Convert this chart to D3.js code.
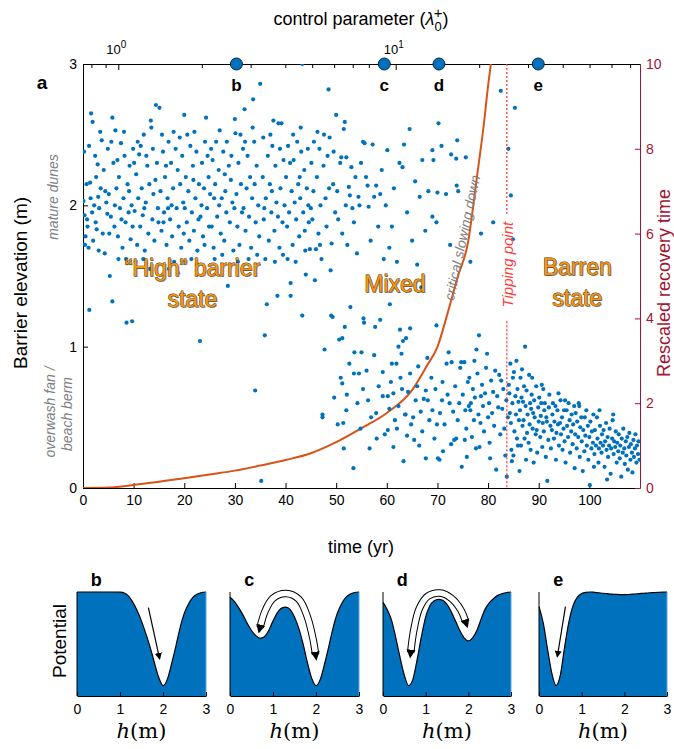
<!DOCTYPE html>
<html>
<head>
<meta charset="utf-8">
<script src="https://cdn.jsdelivr.net/npm/d3@7"></script>
<style>
body { margin: 0; background: #fff; }
svg { font-family: "Liberation Sans", Arial, sans-serif; }
</style>
</head>
<body>
<script>
// barrier elevation samples [time (yr), elevation (m)]
var highPts = [
[0.2,2.38],[0.1,2.03],[0.3,1.93],[0.7,2.15],[1.4,2.16],[1.6,2.65],[1.9,2.59],[1.25,1.26],[0.5,1.78],[0.9,1.85],[1.1,1.7],[0.4,1.72],[1.8,1.95],[2.2,2.0],[2.5,1.88],[2.7,1.83],[2.9,2.29],[3.0,2.06],[3.4,2.52],[3.7,2.46],[3.2,1.98],[3.5,2.12],[3.9,1.8],[4.3,1.66],[4.1,2.25],[4.6,2.02],[4.8,1.94],[2.4,2.35],[1.2,2.42],[0.8,1.9],[2.0,1.75],[3.1,1.68],[4.4,2.1],[4.9,2.4],[2.6,2.2],[1.5,2.05],
[5.3,1.5],[5.8,1.32],[5.8,2.62],[6.4,2.53],[5.1,2.08],[5.5,1.92],[6.0,2.3],[6.2,1.85],[6.6,2.12],[6.9,1.78],[7.1,2.2],[7.3,1.98],[7.5,2.44],[7.8,1.7],[8.0,2.05],[8.2,2.35],[8.4,1.88],[8.6,1.17],[8.8,2.15],[9.0,1.95],[9.2,2.28],[9.4,1.76],[9.7,1.18],[9.6,2.0],[9.9,2.4],[5.6,2.45],[6.8,2.32],[7.6,1.9],[8.5,1.62],[9.1,2.1],[7.0,1.62],[5.2,1.8],[9.8,1.85],[6.3,2.0],[8.1,2.52],
[10.2,1.96],[10.5,2.22],[10.7,1.72],[10.9,2.05],[11.1,2.36],[11.3,1.85],[11.6,2.12],[11.8,1.93],[12.0,2.5],[12.2,1.68],[12.4,2.02],[12.7,2.28],[12.9,1.8],[13.1,2.15],[13.4,2.6],[13.5,2.55],[13.7,1.9],[13.9,2.08],[14.1,1.75],[14.4,2.71],[14.6,2.3],[14.8,1.98],[15.1,2.69],[10.4,1.6],[11.4,2.42],[12.5,2.35],[13.2,1.55],[14.3,2.18],[10.8,2.45],[12.1,1.98],[13.8,2.4],[11.9,1.62],[14.9,1.88],[10.1,2.3],
[15.3,2.1],[15.5,1.82],[15.8,2.38],[16.0,1.95],[16.2,2.2],[16.5,1.72],[16.7,2.05],[16.9,2.45],[17.2,1.9],[17.4,2.3],[17.6,1.78],[17.8,2.12],[18.0,1.6],[18.3,2.4],[18.5,1.98],[18.7,2.25],[18.9,1.85],[19.2,2.15],[19.4,1.7],[19.6,2.35],[19.8,2.02],[20.0,2.64],[15.6,2.5],[16.4,2.28],[17.0,1.55],[17.9,2.52],[18.8,1.52],[19.1,2.48],[15.9,1.88],[16.8,1.98],[19.9,1.8],[17.5,2.0],
[20.3,2.2],[20.5,1.88],[20.8,2.1],[21.0,1.75],[21.2,2.42],[21.5,1.95],[21.7,2.28],[21.9,1.82],[22.2,2.05],[22.4,2.38],[22.6,1.68],[22.9,2.15],[23.1,1.04],[23.2,1.92],[23.5,2.3],[23.7,1.78],[23.9,2.12],[24.1,2.45],[24.3,2.62],[24.5,1.98],[24.8,2.2],[20.6,2.5],[21.4,1.62],[22.0,2.52],[22.8,1.9],[23.4,2.0],[24.0,1.72],[24.6,2.35],[20.1,1.98],[21.8,2.18],[24.9,1.85],[22.5,1.58],
[25.1,2.08],[25.4,1.85],[25.6,2.32],[25.8,1.7],[26.1,2.15],[26.3,2.45],[26.5,1.92],[26.8,2.25],[27.0,2.53],[27.2,1.8],[27.4,2.05],[27.7,2.38],[27.9,1.75],[28.1,2.1],[28.3,1.95],[28.6,1.43],[28.8,2.28],[29.0,1.88],[29.2,2.18],[29.5,2.02],[29.7,1.68],[30.0,2.61],[30.1,2.51],[25.3,2.4],[26.0,1.62],[26.9,2.0],[27.5,1.65],[28.4,2.45],[29.3,2.35],[29.9,1.98],[25.9,2.05],[28.0,2.22],
[30.3,2.08],[30.5,1.85],[30.7,2.3],[30.9,1.72],[31.2,2.15],[31.4,1.95],[31.6,2.4],[31.9,2.68],[32.1,1.82],[32.3,2.12],[32.5,2.35],[32.8,1.92],[33.0,2.2],[33.2,1.7],[33.4,2.05],[33.6,2.75],[33.8,2.45],[34.0,0.69],[34.1,1.88],[34.3,2.28],[34.6,2.0],[34.8,1.78],[35.0,2.86],[35.2,0.05],[30.6,1.6],[31.1,2.5],[32.0,2.45],[32.7,1.62],[33.5,2.55],[34.4,1.65],[31.7,1.98],[33.9,2.15],
[35.5,2.2],[35.7,1.9],[35.9,1.08],[36.1,2.05],[36.3,1.3],[36.5,2.35],[36.7,1.75],[36.9,2.15],[37.2,1.95],[37.4,2.42],[37.6,2.6],[37.8,1.82],[38.0,2.28],[38.2,2.02],[38.4,1.36],[38.6,2.58],[38.8,1.7],[39.0,2.12],[39.2,2.58],[39.4,1.88],[39.6,2.32],[39.8,2.0],[35.6,2.48],[36.0,1.62],[37.0,2.5],[37.9,1.6],[38.9,2.4],[39.5,1.65],[35.8,1.98],[37.3,2.1],[38.5,1.92],
[40.1,2.2],[40.3,1.85],[40.5,2.42],[40.7,1.95],[41.0,1.36],[41.0,1.45],[41.2,2.1],[41.4,1.72],[41.6,2.32],[41.8,2.02],[42.1,1.9],[42.3,2.45],[42.5,2.15],[42.7,1.78],[42.9,2.05],[43.1,2.38],[43.3,1.22],[43.3,3.0],[43.5,1.95],[43.7,2.25],[43.9,1.68],[44.0,1.51],[44.2,2.12],[44.4,2.4],[44.6,1.88],[44.8,1.69],[40.4,1.62],[41.5,2.5],[42.0,1.6],[43.0,2.55],[44.5,2.0],[40.9,2.3],[42.8,2.2],[43.8,1.82],
[45.1,2.3],[45.3,1.9],[45.5,2.1],[45.8,1.47],[46.0,1.69],[46.2,2.2],[46.3,2.52],[46.5,1.8],[46.7,2.4],[46.9,2.0],[47.1,1.62],[47.3,0.52],[47.3,0.5],[47.5,2.28],[47.7,0.98],[47.9,2.05],[48.1,1.85],[48.3,2.35],[48.5,2.82],[48.7,2.48],[48.9,1.54],[49.0,1.22],[49.1,1.73],[49.3,1.21],[49.4,2.15],[49.8,1.95],[45.6,2.45],[46.8,1.72],[47.6,2.5],[48.6,2.12],[49.5,2.38],[45.0,1.98]
];
var mixedHighPts = [
[50.0,2.64],[50.2,2.1],[50.4,1.9],[50.6,1.05],[50.8,2.3],[51.0,2.34],[51.2,1.8],[51.5,2.54],[51.7,2.59],[51.9,2.0],[52.0,2.34],[52.2,1.72],[52.5,2.13],[52.7,2.07],[53.0,2.27],[53.2,1.98],[53.5,1.88],[53.8,2.2],[54.1,1.66],[54.4,2.06],[54.6,2.0],[54.9,2.3],[55.3,2.45],[55.6,2.44],[55.9,2.2],[56.2,2.14],[56.4,1.99],[56.8,1.75],[57.2,2.43],[57.5,2.06],[57.9,2.14],[58.3,1.85],[58.7,2.08],[59.0,2.25],[59.4,1.62],[59.8,2.0],[60.1,2.39],[60.5,1.7],[61.0,1.85],[61.4,2.12],[62.0,1.6],[62.5,2.3],[63.1,2.27],[63.4,2.43],[64.0,1.95],[64.5,2.54],[65.0,1.75],[65.6,2.17],[66.0,1.58],[66.5,2.06],[67.0,2.32],[67.6,1.82],[68.2,2.1],[69.0,2.39],[69.2,2.32],[69.0,1.92],[69.8,1.88],[70.0,2.09],[70.2,2.58],[70.8,2.42],[71.7,2.08],[72.5,1.72],[72.7,2.36],[73.7,2.33],[73.9,2.46],[73.8,2.14],[74.1,2.1],[75.6,2.34],[76.5,1.6],[78.6,1.8],[81.0,1.88],[82.5,2.81],[84.0,2.4],[84.5,2.07],[84.9,1.76],[85.3,2.69],[87.3,1.0],
[51.7,1.14],[51.2,1.06],[55.4,1.2],[55.5,1.17],[57.7,1.14],[58.7,1.19],[53.6,0.96],[55.0,0.96],[57.5,0.94],[62.6,1.12],[64.6,1.13],[62.3,1.0],[63.2,1.04],[63.8,1.06],[62.9,0.95],[69.8,1.15],[77.7,0.98],[78.2,1.08],[60.6,1.3],[66.8,1.42],[52.8,1.28]
];
var mixedLowPts = [
[49.6,0.64],[50.3,0.45],[50.9,0.78],[51.2,0.74],[51.4,0.46],[51.5,0.28],[52.1,0.66],[52.0,0.55],[52.6,0.88],[53.4,0.14],[53.5,0.81],[54.2,0.6],[54.5,0.81],[55.3,0.7],[56.0,0.83],[56.6,0.28],[56.9,0.5],[57.9,0.53],[58.4,0.72],[59.2,0.65],[59.2,0.82],[59.6,0.38],[60.2,0.65],[60.2,0.41],[60.5,0.56],[61.0,0.88],[61.3,0.67],[61.3,0.29],[61.6,0.48],[61.9,0.88],[62.3,0.58],[62.7,0.78],[63.3,0.19],[63.6,0.52],[63.7,0.52],[64.0,0.37],[64.2,0.68],[64.6,0.81],[64.8,0.45],[65.4,0.34],[65.7,0.62],[66.0,0.72],[66.2,0.86],[66.7,0.54],[67.0,0.4],[67.3,0.63],[67.7,0.21],[67.7,0.69],[68.1,0.62],[68.4,0.48],[68.8,0.78],[69.0,0.55],[69.4,0.35],[69.6,0.7],[70.1,0.21],[70.4,0.2],[70.5,0.53],[70.9,0.62],[71.1,0.26],[71.4,0.45],[71.8,0.88],[72.0,0.66],[72.2,0.96],[72.4,0.6],[72.7,0.31],[72.8,0.89],[73.1,0.54],[73.3,0.34],[73.5,0.72],[73.7,0.35],[74.0,0.48],[74.3,0.6],[74.5,0.85],[74.7,0.89],[75.0,0.66],[75.3,0.89],[75.4,0.34],[75.5,0.55],[75.7,0.42],[75.8,0.22],[76.0,0.75],[76.2,0.58],[76.3,0.78],[76.5,0.55],[76.6,0.6],[76.8,0.36],[77.0,0.7],[77.2,0.48],[77.4,0.64],[77.6,0.28],[77.9,0.81],[78.1,0.52],[78.3,0.29],[78.5,0.46],[78.6,0.65],[78.8,0.73],[79.0,0.58],[79.2,0.4],[79.4,0.67],[79.6,0.85],[79.8,0.95],[80.0,0.5],[80.2,0.6],[80.3,0.32],[80.4,0.21],[80.6,0.76],[80.8,0.53],[81.0,0.68],[81.2,0.44],[81.4,0.83],[81.6,0.13],[81.8,0.65],[82.0,0.57],[82.2,0.8],[82.4,0.38],[82.6,0.76],[82.8,0.56],[83.0,0.7],[83.2,0.42],[83.4,0.23],[83.6,0.62],[83.7,0.08],[83.9,0.5],[77.3,0.9],[74.8,0.15],[71.0,0.75],[69.9,0.45],[68.0,0.92],[66.4,0.3],[65.2,0.5],[63.0,0.7],[58.0,0.35],[56.3,0.62],[54.8,0.42],[60.8,0.75],[62.0,0.42]
];
var barrenPts = [
[84.1,0.73],[84.2,0.67],[84.3,0.53],[84.4,0.88],[84.5,0.46],[84.6,0.27],[84.7,0.19],[84.8,0.6],[84.9,0.78],[85.0,0.23],[85.1,0.82],[85.2,0.4],[85.4,0.65],[85.5,0.52],[85.6,0.9],[85.7,0.35],[85.8,0.7],[86.0,0.61],[86.1,0.48],[86.2,0.12],[86.3,0.55],[86.4,0.78],[86.5,0.3],[86.6,0.64],[86.8,0.44],[86.9,0.61],[87.0,0.48],[87.1,0.72],[87.2,0.35],[87.4,0.58],[87.5,0.2],[87.6,0.69],[87.7,0.39],[87.8,0.52],[88.0,0.32],[88.1,0.8],[88.2,0.45],[88.3,0.6],[88.4,0.27],[88.5,0.56],[88.6,0.66],[88.8,0.42],[88.9,0.53],[89.0,0.18],[89.1,0.62],[89.2,0.5],[89.4,0.38],[89.5,0.72],[89.6,0.41],[89.7,0.25],[89.9,0.57],[90.0,0.47],[90.1,0.64],[90.3,0.36],[90.4,0.51],[90.5,0.6],[90.7,0.29],[90.8,0.46],[90.9,0.7],[91.0,0.4],[91.1,0.55],[91.2,0.6],[91.4,0.22],[91.5,0.5],[91.6,0.47],[91.7,0.05],[91.9,0.34],[92.0,0.57],[92.1,0.66],[92.3,0.44],[92.4,0.28],[92.6,0.41],[92.7,0.52],[92.8,0.6],[93.0,0.35],[93.1,0.47],[93.3,0.58],[93.4,0.2],[93.5,0.39],[93.7,0.55],[93.8,0.45],[94.0,0.3],[94.2,0.46],[94.3,0.62],[94.4,0.38],[94.6,0.5],[94.7,0.27],[94.9,0.42],[95.0,0.55],[95.1,0.33],[95.3,0.18],[95.5,0.55],[95.6,0.44],[95.8,0.36],[95.9,0.6],[96.1,0.48],[96.2,0.25],[96.4,0.4],[96.5,0.52],[96.7,0.31],[96.8,0.45],[97.0,0.58],[97.1,0.14],[97.2,0.38],[97.3,0.53],[97.5,0.28],[97.6,0.47],[97.8,0.36],[97.9,0.6],[98.1,0.22],[98.2,0.43],[98.4,0.5],[98.5,0.33],[98.7,0.12],[98.8,0.41],[99.0,0.26],[99.1,0.5],[99.2,0.37],[99.4,0.55],[99.5,0.3],[99.7,0.44],[99.8,0.2],[100.0,0.36],[100.1,0.02],[100.2,0.47],[100.4,0.28],[100.5,0.4],[100.7,0.32],[100.8,0.52],[101.0,0.24],[101.1,0.41],[101.3,0.3],[101.5,0.5],[101.6,0.35],[101.8,0.18],[101.9,0.28],[102.1,0.44],[102.2,0.32],[102.4,0.25],[102.5,0.38],[102.7,0.3],[102.8,0.41],[103.0,0.15],[103.1,0.33],[103.3,0.46],[103.4,0.27],[103.6,0.36],[103.7,0.22],[103.9,0.3],[104.0,0.42],[104.2,0.1],[104.3,0.28],[104.5,0.35],[104.6,0.48],[104.8,0.24],[104.9,0.33],[105.1,0.29],[105.2,0.4],[105.4,0.18],[105.5,0.32],[105.7,0.26],[105.8,0.38],[106.0,0.21],[106.1,0.3],[106.3,0.08],[106.4,0.35],[106.6,0.25],[106.7,0.42],[106.9,0.28],[107.0,0.17],[107.2,0.33],[107.3,0.23],[107.5,0.36],[107.6,0.13],[107.8,0.29],[107.9,0.39],[108.1,0.2],[108.2,0.31],[108.4,0.25],[108.5,0.11],[108.7,0.34],[108.8,0.22],[109.0,0.28],[109.1,0.38],[109.3,0.18],[109.4,0.3],[109.6,0.24],[109.7,0.33],[109.9,0.2],[95.2,0.62],[98.0,0.58],[102.0,0.55],[104.7,0.52],[93.9,0.67],[90.6,0.73],[88.7,0.78],[86.7,0.84],[85.9,0.3],[100.9,0.15],[103.5,0.06]
];

// rescaled recovery time (right axis)
var recTime = [0,5,10,15,20,25,30,35,40,45,50,55,60,65,68,70,72,74,76,77.8,79.1,80.05,80.6];
var recVal  = [0,0.01,0.07,0.15,0.23,0.32,0.41,0.53,0.66,0.82,1.08,1.41,1.77,2.31,2.9,3.33,4.12,4.98,5.77,7.34,8.52,9.54,10.05];

// snapshots marked on the time axis
var snapNames = ["b","c","d","e"];
var snapTimes = [30.3,59.5,70.3,89.9];
var tippingTime = 83.7;

var topMajor = [1,10];
var topMinor = [0.8,0.9,2,3,4,5,6,7,8,9,20,30,40,50,60,70];

// potential landscapes, h = 0..3 step 0.1, normalised height
var hGrid = d3.range(31).map(function(i){ return i/10; });
var potB = [1,1,1,1,1,1,1,1,1,1,0.998,0.99,0.96,0.9,0.82,0.72,0.6,0.47,0.32,0.18,0.1,0.16,0.31,0.48,0.66,0.8,0.89,0.95,0.98,0.995,1];
var potC = [0.95,0.91,0.85,0.78,0.7,0.63,0.58,0.555,0.57,0.63,0.72,0.8,0.845,0.855,0.83,0.76,0.65,0.5,0.32,0.17,0.1,0.16,0.31,0.48,0.66,0.8,0.89,0.95,0.98,0.995,1];
var potD = [0.9,0.83,0.73,0.56,0.37,0.2,0.1,0.16,0.35,0.57,0.76,0.87,0.915,0.93,0.92,0.88,0.81,0.72,0.63,0.56,0.53,0.56,0.63,0.74,0.84,0.9,0.94,0.97,0.985,0.995,1];
var potE = [0.86,0.7,0.45,0.22,0.1,0.2,0.47,0.71,0.87,0.95,0.985,0.997,1,0.997,0.993,0.988,0.984,0.98,0.977,0.975,0.975,0.976,0.979,0.983,0.986,0.99,0.993,0.995,0.997,0.999,1];

var width = 674, height = 749;
var blue = "#0072bd", crimson = "#a2142f", orange = "#d95319";

var svg = d3.select("body").append("svg")
	.attr("width", width)
	.attr("height", height);

var defs = svg.append("defs");
defs.append("clipPath").attr("id","plotclip")
	.append("rect").attr("x",83).attr("y",64).attr("width",557).attr("height",424);
defs.append("marker")
	.attr("id","ah").attr("viewBox","0 0 10 10")
	.attr("refX",3).attr("refY",5)
	.attr("markerWidth",9).attr("markerHeight",10)
	.attr("markerUnits","userSpaceOnUse")
	.attr("orient","auto-start-reverse")
	.append("path").attr("d","M0,0 L10,5 L0,10 z").attr("fill","#000");
defs.append("marker")
	.attr("id","ahs").attr("viewBox","0 0 10 10")
	.attr("refX",8).attr("refY",5)
	.attr("markerWidth",7).attr("markerHeight",8)
	.attr("markerUnits","userSpaceOnUse")
	.attr("orient","auto-start-reverse")
	.append("path").attr("d","M0,0 L10,5 L0,10 z").attr("fill","#000");

var x = d3.scaleLinear().domain([0,110]).range([83,640]);
var y = d3.scaleLinear().domain([0,3]).range([488,64]);
var yR = d3.scaleLinear().domain([0,10]).range([488,64]);
var xTop = d3.scaleLog().domain([0.746,76]).range([83,640]);

// ---- main panel axes
var gx = svg.append("g").attr("transform","translate(0,488)")
	.call(d3.axisBottom(x).tickValues(d3.range(0,101,10)).tickSizeInner(-5).tickSizeOuter(0).tickPadding(7));
var gy = svg.append("g").attr("transform","translate(83,0)")
	.call(d3.axisLeft(y).tickValues([0,1,2,3]).tickFormat(d3.format("d")).tickSizeInner(-5).tickSizeOuter(0).tickPadding(6));
var gr = svg.append("g").attr("transform","translate(640,0)")
	.call(d3.axisRight(yR).tickValues([0,2,4,6,8,10]).tickSizeInner(-5).tickSizeOuter(0).tickPadding(6));
var gt = svg.append("g").attr("transform","translate(0,64)")
	.call(d3.axisTop(xTop).tickValues(topMinor).tickFormat("").tickSizeInner(-4).tickSizeOuter(0));
svg.append("g").attr("transform","translate(0,64)")
	.call(d3.axisTop(xTop).tickValues(topMajor).tickFormat("").tickSizeInner(-6).tickSizeOuter(0))
	.select(".domain").remove();

[gx,gy,gr,gt].forEach(function(g){
	g.selectAll("text").attr("font-family","Liberation Sans, Arial, sans-serif").attr("font-size",14).attr("fill","#000");
	g.selectAll("line,path").attr("stroke","#000");
});
gr.selectAll("text").attr("fill",crimson);
gr.selectAll("line,path").attr("stroke",crimson);

// top axis labels 10^0, 10^1
topMajor.forEach(function(v, i){
	var t = svg.append("text").attr("x", xTop(v) - 2).attr("y", 54)
		.attr("text-anchor","middle").attr("font-size",13);
	t.append("tspan").text("10");
	t.append("tspan").attr("dy",-6).attr("font-size",10).text(i);
});

// recovery time curve
var recData = recTime.map(function(t,i){ return {t:t, v:recVal[i]}; });
svg.append("path").datum(recData)
	.attr("clip-path","url(#plotclip)")
	.attr("fill","none").attr("stroke",orange).attr("stroke-width",2)
	.attr("d", d3.line().x(function(d){return x(d.t);}).y(function(d){return yR(d.v);}).curve(d3.curveMonotoneX));

// scatter
var allPts = highPts.concat(mixedHighPts, mixedLowPts, barrenPts);
svg.append("g").attr("clip-path","url(#plotclip)")
	.selectAll("circle").data(allPts).enter().append("circle")
	.attr("cx", function(d){ return x(d[0]); })
	.attr("cy", function(d){ return y(d[1]); })
	.attr("r", 2.1)
	.attr("fill", blue);

// tipping point line, broken around its label
var tipColor = "#ff3b3b";
[[3,1.94],[1.18,0]].forEach(function(s){
	svg.append("line")
		.attr("x1",x(tippingTime)).attr("x2",x(tippingTime))
		.attr("y1",y(s[0])).attr("y2",y(s[1]))
		.attr("stroke",tipColor).attr("stroke-width",1.3).attr("stroke-dasharray","2,2");
});
svg.append("text")
	.attr("transform","translate(" + (x(tippingTime)+1) + "," + y(1.58) + ") rotate(-90)")
	.attr("text-anchor","middle").attr("dy","0.35em")
	.attr("font-size",15).attr("font-style","italic").attr("fill",tipColor)
	.text("Tipping point");

svg.append("text")
	.attr("transform","translate(" + x(74.9) + "," + y(1.77) + ") rotate(-78)")
	.attr("text-anchor","middle").attr("dy","0.35em")
	.attr("font-size",14).attr("font-style","italic").attr("fill","#808080")
	.text("critical slowing down");

// snapshot markers on the top edge
snapTimes.forEach(function(t,i){
	svg.append("circle").attr("cx",x(t)).attr("cy",64).attr("r",6)
		.attr("fill",blue).attr("stroke","#0b2545").attr("stroke-width",1);
	svg.append("text").attr("x",x(t)).attr("y",91).attr("text-anchor","middle")
		.attr("font-size",17).attr("font-weight","bold").text(snapNames[i]);
});

// state labels
function stateLabel(lines, cx, cy) {
	lines.forEach(function(s, i){
		svg.append("text").attr("x",cx+1.2).attr("y",cy + i*31 + 1.2)
			.attr("text-anchor","middle").attr("font-size",23)
			.attr("fill","#9a9a9a").text(s);
		svg.append("text").attr("x",cx).attr("y",cy + i*31)
			.attr("text-anchor","middle").attr("font-size",23)
			.attr("fill","#f7960f").attr("stroke","#3b2a05").attr("stroke-width",0.8)
			.attr("paint-order","stroke").text(s);
	});
}
stateLabel(["\u201cHigh\u201d barrier","state"], x(21.6), y(1.5));
stateLabel(["Mixed"], x(61.6), y(1.39));
stateLabel(["Barren","state"], x(97.6), y(1.51));

// axis titles and annotations
svg.append("text").attr("x",42).attr("y",89).attr("text-anchor","middle")
	.attr("font-size",19).attr("font-weight","bold").text("a");
svg.append("text").attr("transform","translate(20,283) rotate(-90)")
	.attr("text-anchor","middle").attr("dy","0.35em").attr("font-size",19)
	.text("Barrier elevation (m)");
svg.append("text").attr("transform","translate(53,197) rotate(-90)")
	.attr("text-anchor","middle").attr("dy","0.35em").attr("font-size",14)
	.attr("font-style","italic").attr("fill","#808080").text("mature dunes");
svg.append("text").attr("transform","translate(50,412) rotate(-90)")
	.attr("text-anchor","middle").attr("dy","0.35em").attr("font-size",14)
	.attr("font-style","italic").attr("fill","#808080").text("overwash fan /");
svg.append("text").attr("transform","translate(67,414) rotate(-90)")
	.attr("text-anchor","middle").attr("dy","0.35em").attr("font-size",14)
	.attr("font-style","italic").attr("fill","#808080").text("beach berm");
svg.append("text").attr("transform","translate(664,283) rotate(-90)")
	.attr("text-anchor","middle").attr("dy","0.35em").attr("font-size",18)
	.attr("fill",crimson).text("Rescaled recovery time");
svg.append("text").attr("x",361).attr("y",553).attr("text-anchor","middle")
	.attr("font-size",18).text("time (yr)");

var title = svg.append("text").attr("x",361).attr("y",25).attr("text-anchor","middle").attr("font-size",18);
title.append("tspan").text("control parameter (");
title.append("tspan").attr("font-style","italic").text("\u03bb");
title.append("tspan").attr("font-size",13).attr("dy",6).text("0");
title.append("tspan").attr("font-size",15).attr("dx",-8).attr("dy",-13).text("+");
title.append("tspan").attr("dy",7).text(")");

// ---- potential panels
var panels = [
	{name:"b", pot:potB, x0:77, x1:206, arrow:[[1.66,0.85],[1.92,0.36]], band:false},
	{name:"c", pot:potC, x0:230, x1:359, arrow:[[0.7,0.66],[0.82,0.82],[1.0,0.94],[1.3,0.985],[1.6,0.93],[1.8,0.76],[1.93,0.55],[1.99,0.4]], band:true},
	{name:"d", pot:potD, x0:383, x1:511, arrow:[[0.65,0.42],[0.72,0.63],[0.85,0.84],[1.05,0.96],[1.34,0.99],[1.6,0.94],[1.82,0.83],[1.94,0.71]], band:true},
	{name:"e", pot:potE, x0:539, x1:667, arrow:[[0.62,0.86],[0.43,0.38]], band:false}
];
var pY = d3.scaleLinear().domain([0,1]).range([696,592]);

panels.forEach(function(p){
	var px = d3.scaleLinear().domain([0,3]).range([p.x0,p.x1]);
	var data = hGrid.map(function(h,i){ return {h:h, v:p.pot[i]}; });
	var g = svg.append("g");
	g.append("path").datum(data)
		.attr("fill",blue)
		.attr("d", d3.area().x(function(d){return px(d.h);}).y0(696).y1(function(d){return pY(d.v);}).curve(d3.curveMonotoneX));
	g.append("path").datum(data)
		.attr("fill","none").attr("stroke","#000").attr("stroke-width",1.2)
		.attr("d", d3.line().x(function(d){return px(d.h);}).y(function(d){return pY(d.v);}).curve(d3.curveMonotoneX));
	g.append("line").attr("x1",p.x1).attr("x2",p.x1).attr("y1",pY(1)).attr("y2",696)
		.attr("stroke","#5aa9e6").attr("stroke-width",1);
	var ax = g.append("g").attr("transform","translate(0,696)")
		.call(d3.axisBottom(px).tickValues([0,1,2,3]).tickFormat(d3.format("d")).tickSizeInner(-4).tickSizeOuter(0).tickPadding(8));
	ax.selectAll("text").attr("font-family","Liberation Sans, Arial, sans-serif").attr("font-size",14).attr("fill","#000");
	ax.selectAll("line,path").attr("stroke","#000");
	g.append("line").attr("x1",p.x0).attr("x2",p.x0).attr("y1",592).attr("y2",696).attr("stroke","#000");

	var line = d3.line().x(function(d){return px(d[0]);}).y(function(d){return pY(d[1]);});
	if (p.band) {
		line.curve(d3.curveCatmullRom);
		g.append("path").attr("d", line(p.arrow)).attr("fill","none")
			.attr("stroke","#000").attr("stroke-width",7.5);
		g.append("path").attr("d", line(p.arrow)).attr("fill","none")
			.attr("stroke","#fff").attr("stroke-width",5.5)
			.attr("marker-start","url(#ah)").attr("marker-end","url(#ah)");
	} else {
		g.append("path").attr("d", line(p.arrow)).attr("fill","none")
			.attr("stroke","#000").attr("stroke-width",1.2)
			.attr("marker-end","url(#ahs)");
	}

	g.append("text").attr("x",px(0.45)).attr("y",586).attr("text-anchor","middle")
		.attr("font-size",18).attr("font-weight","bold").text(p.name);
	var lab = g.append("text").attr("x",(p.x0+p.x1)/2).attr("y",738).attr("text-anchor","middle")
		.attr("font-family","DejaVu Serif, Liberation Serif, serif").attr("font-size",21);
	lab.append("tspan").attr("font-style","italic").text("h");
	lab.append("tspan").text("(m)");
});

svg.append("text").attr("transform","translate(59,641) rotate(-90)")
	.attr("text-anchor","middle").attr("dy","0.35em").attr("font-size",19)
	.text("Potential");
</script>
</body>
</html>
